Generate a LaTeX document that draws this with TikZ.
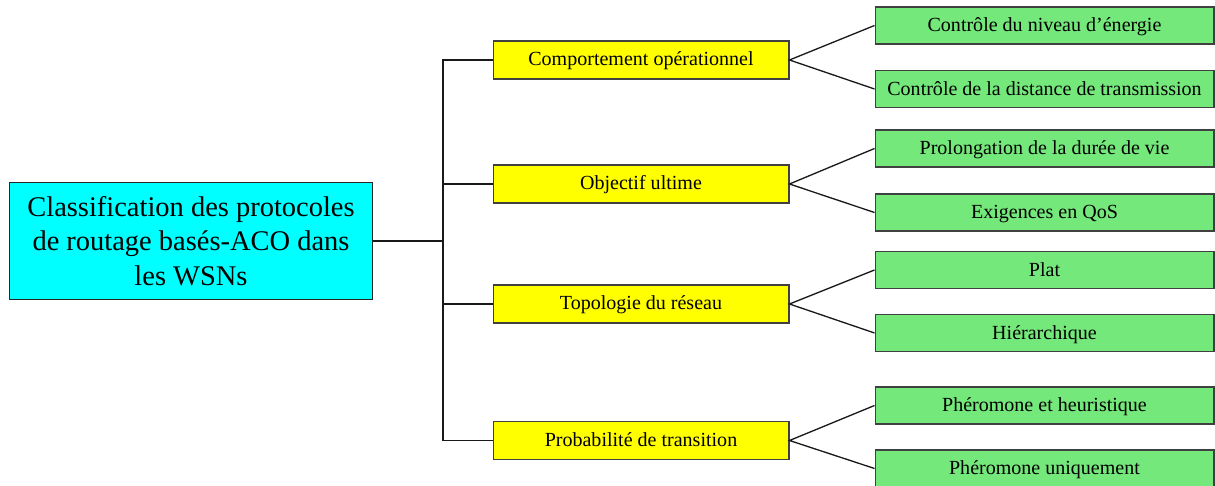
\documentclass[tikz,border=0pt]{standalone}
\usepackage{fontspec}
\setmainfont{Liberation Serif}
\usetikzlibrary{calc}
\definecolor{rootcyan}{RGB}{0,255,255}
\definecolor{catyellow}{RGB}{255,255,0}
\definecolor{leafgreen}{RGB}{116,232,122}
\tikzset{
	rootbox/.style={draw=black!85, line width=0.6pt, fill=rootcyan, minimum width=7.28cm, minimum height=2.34cm, inner sep=0pt, align=center, font=\fontsize{16.2}{19.8}\selectfont},
	catbox/.style={draw=black!75, line width=0.6pt, fill=catyellow, minimum width=5.92cm, minimum height=0.76cm, inner sep=0pt, text height=0.88em, text depth=0.2em, font=\fontsize{11.4}{13.5}\selectfont},
	leafbox/.style={draw=black!75, line width=0.6pt, fill=leafgreen, minimum width=6.78cm, minimum height=0.74cm, inner sep=0pt, text height=0.9em, text depth=0.2em, font=\fontsize{11.4}{13.5}\selectfont},
	spine/.style={line width=1.1pt, black!90},
	fork/.style={line width=0.75pt, black!90}
}
\begin{document}
\begin{tikzpicture}[x=0.02cm, y=-0.02cm]
			%%%%% START %%%%%
			
			\useasboundingbox (0, 0) rectangle (1215, 486);
			
			\node[rootbox] (root) at (191, 241) {Classification des protocoles\\de routage basés-ACO dans\\les WSNs};
			
			\node[catbox] (comport) at (641, 60) {Comportement opérationnel};
			\node[catbox] (objectif) at (641, 184) {Objectif ultime};
			\node[catbox] (topo) at (641, 304) {Topologie du réseau};
			\node[catbox] (proba) at (641, 440.5) {Probabilité de transition};
			
			\node[leafbox] (energie) at (1044.5, 25.5) {Contrôle du niveau d’énergie};
			\node[leafbox] (distance) at (1044.5, 89) {Contrôle de la distance de transmission};
			\node[leafbox] (duree) at (1044.5, 148.5) {Prolongation de la durée de vie};
			\node[leafbox] (qos) at (1044.5, 212.5) {Exigences en QoS};
			\node[leafbox] (plat) at (1044.5, 270) {Plat};
			\node[leafbox] (hier) at (1044.5, 333) {Hiérarchique};
			\node[leafbox] (heur) at (1044.5, 405.5) {Phéromone et heuristique};
			\node[leafbox] (unique) at (1044.5, 468.5) {Phéromone uniquement};
			
			\coordinate (trunk) at (443, 241);
			
			\draw[spine] (root.east) -- (trunk);
			\draw[spine] (comport.west) -| (trunk) |- (proba.west);
			\draw[spine] (trunk |- objectif.west) -- (objectif.west);
			\draw[spine] (trunk |- topo.west) -- (topo.west);
			
			\draw[fork] (energie.west) -- (comport.east) -- (distance.west);
			\draw[fork] (duree.west) -- (objectif.east) -- (qos.west);
			\draw[fork] (plat.west) -- (topo.east) -- (hier.west);
			\draw[fork] (heur.west) -- (proba.east) -- (unique.west);
			
			%%%%% END %%%%%
\end{tikzpicture}
\end{document}
